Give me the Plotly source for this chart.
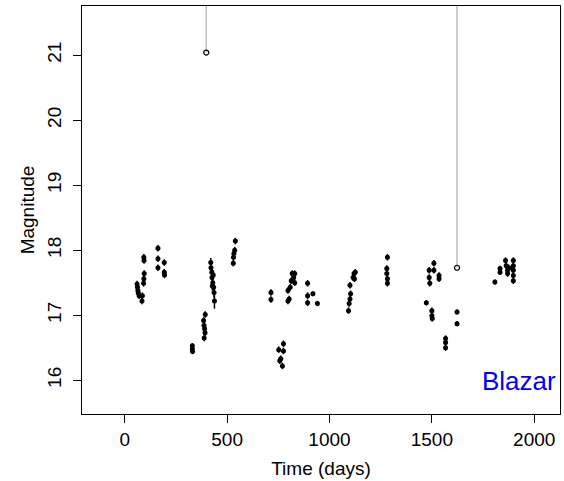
import plotly.graph_objects as go

# Observations (time in days, magnitude, 1-sigma error)
time_days = [60, 62, 64, 66, 70, 84, 86,
             93, 94, 95, 93, 92,
             162, 162, 162,
             193, 193, 194,
             330, 330, 331,
             385, 387, 390, 393, 388, 392,
             420, 421, 425, 426, 430, 434, 436, 438, 432, 428,
             530, 531, 533, 537, 540,
             714, 714,
             752, 762, 770, 775, 775, 757,
             797, 797, 803, 808, 813, 818, 825, 830, 830,
             893, 893, 893,
             919, 941,
             1093, 1096, 1100, 1103, 1100, 1115, 1120, 1126, 1122,
             1283, 1280, 1280, 1283, 1283,
             1473, 1500, 1500, 1502,
             1487, 1487, 1490, 1510, 1510, 1535, 1535,
             1567, 1567, 1567,
             1623, 1623,
             1808, 1833, 1833,
             1860, 1863, 1870, 1875, 1870,
             1898, 1898, 1898, 1898, 1898, 1892]
magnitude = [17.48, 17.43, 17.38, 17.34, 17.30, 17.22, 17.30,
             17.89, 17.84, 17.64, 17.56, 17.49,
             18.03, 17.87, 17.73,
             17.81, 17.66, 17.62,
             16.53, 16.48, 16.44,
             16.92, 16.84, 16.79, 17.01, 16.65, 16.73,
             17.81, 17.73, 17.66, 17.58, 17.50, 17.43, 17.35, 17.22, 17.62, 17.45,
             17.80, 17.89, 17.95, 18.00, 18.14,
             17.35, 17.24,
             16.47, 16.33, 16.22, 16.56, 16.45, 16.30,
             17.38, 17.22, 17.25, 17.43, 17.53, 17.64, 17.58, 17.64, 17.50,
             17.49, 17.30, 17.19,
             17.33, 17.18,
             17.07, 17.18, 17.25, 17.33, 17.46, 17.58, 17.64, 17.66, 17.56,
             17.89, 17.72, 17.64, 17.56, 17.49,
             17.19, 17.07, 16.99, 16.95,
             17.69, 17.58, 17.49, 17.80, 17.69, 17.61, 17.56,
             16.64, 16.58, 16.50,
             17.05, 16.87,
             17.51, 17.66, 17.72,
             17.84, 17.76, 17.69, 17.73, 17.64,
             17.84, 17.76, 17.69, 17.61, 17.53, 17.73]
mag_error = [0.05, 0.05, 0.05, 0.05, 0.05, 0.05, 0.05,
             0.05, 0.05, 0.05, 0.05, 0.05,
             0.05, 0.05, 0.05,
             0.05, 0.05, 0.05,
             0.04, 0.04, 0.04,
             0.05, 0.05, 0.05, 0.05, 0.05, 0.05,
             0.07, 0.07, 0.07, 0.07, 0.07, 0.07, 0.08, 0.12, 0.07, 0.07,
             0.05, 0.05, 0.05, 0.05, 0.05,
             0.05, 0.05,
             0.05, 0.05, 0.05, 0.05, 0.05, 0.05,
             0.05, 0.05, 0.05, 0.05, 0.05, 0.05, 0.05, 0.05, 0.05,
             0.05, 0.05, 0.05,
             0.04, 0.04,
             0.05, 0.05, 0.05, 0.05, 0.05, 0.05, 0.05, 0.05, 0.05,
             0.05, 0.05, 0.05, 0.05, 0.05,
             0.04, 0.05, 0.05, 0.05,
             0.05, 0.05, 0.05, 0.05, 0.05, 0.05, 0.05,
             0.05, 0.05, 0.05,
             0.04, 0.04,
             0.04, 0.04, 0.04,
             0.05, 0.05, 0.05, 0.05, 0.05,
             0.05, 0.05, 0.05, 0.05, 0.05, 0.05]

# Poorly constrained observations (huge upward error)
outlier_time = [398, 1623]
outlier_mag = [21.04, 17.73]
outlier_err_up = [10.0, 10.0]
outlier_err_down = [0.0, 0.0]

x_ticks = [0, 500, 1000, 1500, 2000]
y_ticks = [16, 17, 18, 19, 20, 21]

FONT = "Liberation Sans, Arial, Helvetica, sans-serif"

fig = go.Figure()
fig.add_trace(go.Scatter(
    x=outlier_time, y=outlier_mag, mode="markers",
    marker=dict(symbol="circle-open", size=5, color="black", line=dict(width=1.2)),
    error_y=dict(type="data", symmetric=False, array=outlier_err_up,
                 arrayminus=outlier_err_down, color="#bebebe", thickness=1.5, width=0),
    showlegend=False))
fig.add_trace(go.Scatter(
    x=time_days, y=magnitude, mode="markers",
    marker=dict(symbol="circle", size=5, color="black"),
    error_y=dict(type="data", array=mag_error, color="black", thickness=1.5, width=0),
    showlegend=False))

fig.add_annotation(text="Blazar", x=1, y=0.038, xref="paper", yref="paper",
                   xanchor="right", yanchor="bottom", showarrow=False,
                   xshift=-2,
                   font=dict(family=FONT, size=26, color="#0000ff"))

fig.update_layout(
    width=564, height=481,
    margin=dict(l=82, r=4, t=6, b=67, autoexpand=False),
    paper_bgcolor="white", plot_bgcolor="white",
    font=dict(family=FONT, size=19, color="black"),
    xaxis=dict(range=[-209, 2126], tickvals=x_ticks, ticks="outside", ticklen=8,
               tickwidth=1, tickcolor="black", showgrid=False, zeroline=False,
               showline=True, linecolor="black", linewidth=1, mirror=True,
               automargin=False,
               title=dict(text="Time (days)", standoff=12, font=dict(size=19))),
    yaxis=dict(range=[15.48, 21.756], tickvals=y_ticks, ticks="outside", ticklen=8,
               tickwidth=1, tickcolor="black", showgrid=False, zeroline=False,
               tickangle=-90, automargin=False, ticklabelstandoff=4,
               showline=True, linecolor="black", linewidth=1, mirror=True,
               title=dict(text="Magnitude", standoff=4, font=dict(size=19))),
)

fig.write_html("out.html", config={"displayModeBar": False},
               post_script="document.body.style.margin='0';document.body.style.overflow='hidden';")
